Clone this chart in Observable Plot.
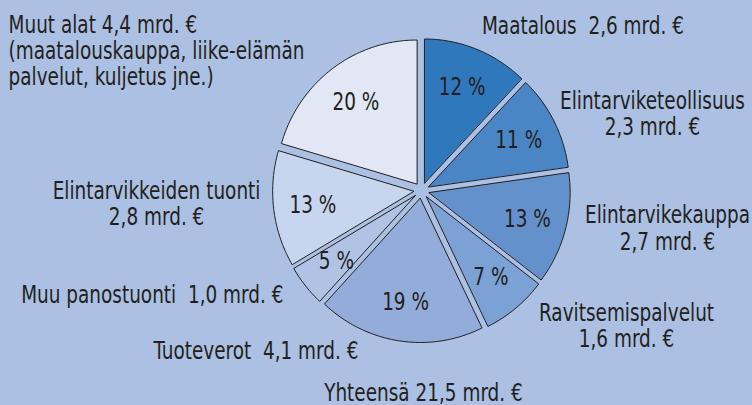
<!DOCTYPE html>
<html>
<head>
<meta charset="utf-8">
<script src="https://cdn.jsdelivr.net/npm/d3@7"></script>
<script src="https://cdn.jsdelivr.net/npm/@observablehq/plot@0.6"></script>
<style>
  html, body { margin: 0; padding: 0; background: #abc0e2; }
  #chart svg { display: block; }
</style>
</head>
<body>
<div id="chart"></div>
<script>
// ---- data ----
const categories = ["Maatalous", "Elintarviketeollisuus", "Elintarvikekauppa", "Ravitsemispalvelut",
                    "Tuoteverot", "Muu panostuonti", "Elintarvikkeiden tuonti", "Muut alat"];
const values = [2.6, 2.3, 2.7, 1.6, 4.1, 1.0, 2.8, 4.4]; // mrd. €
const notes = ["", "", "", "", "", "", "", "(maatalouskauppa, liike-elämän\npalvelut, kuljetus jne.)"];
const totalLabel = "Yhteensä";

// ---- styling / layout (not data) ----
const colors = ["#2f78bc", "#4a85c5", "#6491cb", "#7ba1d5", "#93acd9", "#b0c3e5", "#c8d5ee", "#e1e7f5"];
// label anchor in pie-radius units, text anchor, and text format
const labelLayout = [
  {x: 1.145, y: 1.144, anchor: "middle", form: "inline2"},
  {x: 1.638, y: 0.533, anchor: "middle", form: "wrap"},
  {x: 1.745, y: -0.262, anchor: "middle", form: "wrap"},
  {x: 1.454, y: -0.937, anchor: "middle", form: "wrap"},
  {x: -0.447, y: -1.111, anchor: "end", form: "inline2"},
  {x: -0.979, y: -0.722, anchor: "end", form: "inline2"},
  {x: -1.879, y: -0.090, anchor: "middle", form: "wrap"},
  {x: -2.929, y: 0.972, anchor: "start", form: "inline1"}
];
const totalPos = {x: 0.014, y: -1.403};
const explode = 0.056;
const pctRadius = 0.72;
const squeeze = 0.855; // horizontal condensing of text (no narrow font installed)

const font = "'Liberation Sans Narrow', 'DejaVu Sans Condensed', 'Arial Narrow', sans-serif";
const fmt = v => v.toFixed(1).replace(".", ",") + " mrd. €";

// ---- geometry from values ----
const total = d3.sum(values);
const pie = d3.pie().sort(null).value(d => d)(values);
const slices = pie.map((p, i) => {
  const a0 = p.startAngle, a1 = p.endAngle, m = (a0 + a1) / 2;
  const ox = explode * Math.sin(m), oy = explode * Math.cos(m);
  const n = Math.max(2, Math.ceil((a1 - a0) / (Math.PI / 180)));
  const pts = [{x: ox, y: oy}];
  for (let k = 0; k <= n; k++) {
    const a = a0 + (a1 - a0) * k / n;
    pts.push({x: ox + Math.sin(a), y: oy + Math.cos(a)});
  }
  return {name: categories[i], value: values[i], pts, mid: m,
          pct: Math.round(values[i] / total * 100)};
});

const pctLabels = slices.map(s => ({
  x: (explode + pctRadius) * Math.sin(s.mid),
  y: (explode + pctRadius) * Math.cos(s.mid),
  text: s.pct + " %"
}));

const catLabels = categories.map((c, i) => {
  const L = labelLayout[i];
  let text;
  if (L.form === "wrap") text = c + "\n" + fmt(values[i]);
  else if (L.form === "inline2") text = c + "\u00a0\u00a0" + fmt(values[i]);
  else text = c + " " + fmt(values[i]);
  if (notes[i]) text += "\n" + notes[i];
  return {x: L.x, y: L.y, anchor: L.anchor, text};
});

const textOpts = {fontSize: 24, fontFamily: font, fill: "#231f20", lineHeight: 1.1};

const chart = Plot.plot({
  width: 752,
  height: 405,
  margin: 0,
  x: {domain: [-1, 1], range: [280, 562], axis: null},
  y: {domain: [-1, 1], range: [334, 46], axis: null},
  style: {background: "#abc0e2", fontFamily: font},
  marks: [
    ...slices.map((s, i) => Plot.line(s.pts, {
      x: "x", y: "y", curve: "linear-closed",
      fill: colors[i], stroke: "#231f20", strokeWidth: 1
    })),
    Plot.text(pctLabels, {x: "x", y: "y", text: "text", ...textOpts}),
    ...["start", "middle", "end"].map(a => Plot.text(catLabels.filter(d => d.anchor === a), {
      x: "x", y: "y", text: "text", textAnchor: a, ...textOpts
    })),
    Plot.text([{x: totalPos.x, y: totalPos.y, text: totalLabel + " " + fmt(total)}],
      {x: "x", y: "y", text: "text", ...textOpts})
  ]
});
// condense text horizontally around each text's own anchor point
d3.select(chart).selectAll("text").each(function() {
  const t = this.getAttribute("transform");
  if (t) {
    this.setAttribute("transform", t + ` scale(${squeeze},1)`);
  } else {
    const x = +this.getAttribute("x") || 0;
    const y = +this.getAttribute("y") || 0;
    this.setAttribute("transform", `translate(${x},${y}) scale(${squeeze},1) translate(${-x},${-y})`);
  }
});
document.getElementById("chart").append(chart);
</script>
</body>
</html>
